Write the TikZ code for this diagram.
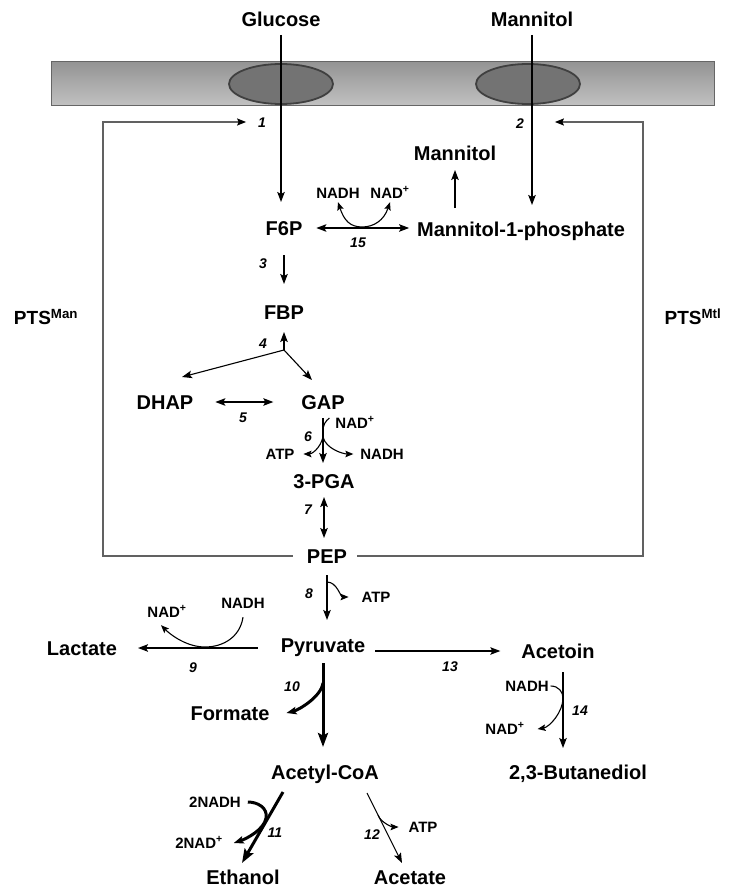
\documentclass[tikz,border=0pt]{standalone}
\usepackage{fontspec}
\setmainfont{Liberation Sans}
\usetikzlibrary{arrows.meta,calc,shapes.geometric}
\begin{document}
\begin{tikzpicture}[x=1pt,y=-1pt,
  lbl/.style={font=\bfseries\fontsize{20}{22}\selectfont, inner sep=0pt, outer sep=0pt, text height=14pt, text depth=0pt},
  pts/.style={font=\bfseries\fontsize{19}{21}\selectfont, inner sep=0pt, outer sep=0pt, text height=13.4pt, text depth=0pt},
  sm/.style={font=\bfseries\fontsize{15}{17}\selectfont, inner sep=0pt, outer sep=0pt, text height=10.4pt, text depth=0pt},
  num/.style={font=\bfseries\itshape\fontsize{14}{16}\selectfont, inner sep=0pt, outer sep=0pt, text height=9.8pt, text depth=0pt},
  tip/.style={-{Stealth[length=10pt,width=7.5pt,inset=2pt]}},
  dtip/.style={{Stealth[length=10pt,width=7.5pt,inset=2pt]}-{Stealth[length=10pt,width=7.5pt,inset=2pt]}},
  btip/.style={-{Stealth[length=14pt,width=10pt,inset=2.5pt]}},
  stip/.style={-{Stealth[length=8pt,width=6.5pt,inset=1.5pt]}},
  ltip/.style={-{Stealth[length=9pt,width=7pt,inset=1.5pt,color=black]}},
  dstip/.style={{Stealth[length=8pt,width=6.5pt,inset=1.5pt]}-{Stealth[length=8pt,width=6.5pt,inset=1.5pt]}},
  main/.style={line width=1.4pt},
  fine/.style={line width=1.1pt},
  heavy/.style={line width=3pt},
  loopl/.style={line width=1.3pt, draw=black!62},
  transporter/.style={ellipse, draw=black!75, line width=1.8pt, fill=black!55, minimum width=104pt, minimum height=40pt, inner sep=0pt},
]
\useasboundingbox (0,0) rectangle (728,888);
\fill[white] (0,0) rectangle (728,888);

% membrane
\shade[top color=black!42, middle color=black!20, bottom color=black!24] (51,62) rectangle (714,106);
\draw[black!60, line width=1pt] (51,62) rectangle (714,106);
\node[transporter] (tr1) at (281,84) {};
\node[transporter] (tr2) at (528,84) {};

% labels
\node[lbl] (glc) at (281,20) {Glucose};
\node[lbl] (mtl) at (532,20) {Mannitol};
\node[num] (n1) at (262,123) {1};
\node[num] (n2) at (520,124) {2};
\node[lbl] (mnt) at (455,153) {Mannitol};
\node[sm] (nadh15) at (338,193) {NADH};
\node[sm] (nad15) at (390,193) {NAD\textsuperscript{+}};
\node[lbl] (f6p) at (284,228) {F6P};
\node[lbl] (m1p) at (521,229) {Mannitol-1-phosphate};
\node[num] (n15) at (358,243) {15};
\node[num] (n3) at (263,264) {3};
\node[lbl] (fbp) at (284,312) {FBP};
\node[pts] (ptsman) at (46,318) {PTS\textsuperscript{Man}};
\node[pts] (ptsmtl) at (693,318) {PTS\textsuperscript{Mtl}};
\node[num] (n4) at (263,344) {4};
\node[lbl] (dhap) at (165,402) {DHAP};
\node[lbl] (gap) at (323,402) {GAP};
\node[num] (n5) at (243,418) {5};
\node[sm] (nad6) at (355,423) {NAD\textsuperscript{+}};
\node[num] (n6) at (308,437) {6};
\node[sm] (atp6) at (280,454) {ATP};
\node[sm] (nadh6) at (382,454) {NADH};
\node[lbl] (pga) at (324,481) {3-PGA};
\node[num] (n7) at (308,510) {7};
\node[lbl] (pep) at (327,556) {PEP};
\node[num] (n8) at (309,594) {8};
\node[sm] (atp8) at (376,597) {ATP};
\node[sm] (nadh9) at (243,603) {NADH};
\node[sm] (nad9) at (167,612) {NAD\textsuperscript{+}};
\node[lbl] (pyr) at (323,645) {Pyruvate};
\node[lbl] (lac) at (82,648) {Lactate};
\node[lbl] (aco) at (558,651) {Acetoin};
\node[num] (n9) at (193,668) {9};
\node[num] (n13) at (450,667) {13};
\node[num] (n10) at (292,687) {10};
\node[sm] (nadh14) at (527,686) {NADH};
\node[num] (n14) at (580,711) {14};
\node[lbl] (frm) at (230,713) {Formate};
\node[sm] (nad14) at (505,729) {NAD\textsuperscript{+}};
\node[lbl] (acoa) at (325,772) {Acetyl-CoA};
\node[lbl] (bdo) at (578,772) {2,3-Butanediol};
\node[sm] (nadh11) at (215,802) {2NADH};
\node[sm] (atp12) at (423,827) {ATP};
\node[num] (n11) at (275,833) {11};
\node[num] (n12) at (372,835) {12};
\node[sm] (nad11) at (199,843) {2NAD\textsuperscript{+}};
\node[lbl] (eth) at (243,877) {Ethanol};
\node[lbl] (acet) at (410,877) {Acetate};

% PTS loops
\coordinate (c1) at (103,556);
\coordinate (c2) at (103,122);
\coordinate (c3) at (643,556);
\coordinate (c4) at (643,122);
\draw[loopl, ltip] ([xshift=-14pt]pep.west) -- (c1) -- (c2) -- ([xshift=-12pt]n1.west |- c2);
\draw[loopl, ltip] ([xshift=10pt]pep.east) -- (c3) -- (c4) -- ([xshift=31pt]n2.east |- c4);

% uptake
\draw[main, tip, shorten <=8pt, shorten >=19pt] (glc.south) -- (glc.south |- f6p.north);
\draw[main, tip, shorten <=8pt, shorten >=17pt] (mtl.south) -- (mtl.south |- m1p.north);
\draw[fine, tip, shorten <=14pt, shorten >=10pt] (m1p.north -| mnt.south) -- (mnt.south);

% 15
\draw[main, dtip, shorten <=14pt, shorten >=8pt] (f6p.east) -- (f6p.east -| m1p.west);
\draw[fine, dstip] ([yshift=-4pt]nadh15.south) .. controls +(6,18) and +(-12,0) .. (362,227) .. controls +(12,0) and +(-6,18) .. ([yshift=-4pt]nad15.south);

% 3, 4, 5
\draw[fine, tip, shorten <=20pt, shorten >=21pt] (f6p.south) -- (f6p.south |- fbp.north);
\coordinate (b4) at (284,350);
\draw[fine, tip, shorten >=13pt] (b4) -- (fbp.south);
\draw[fine, tip] (b4) -- ($(dhap.north)+(17,-18)$);
\draw[fine, tip] (b4) -- ($(gap.north)+(-11,-15)$);
\draw[main, dtip, shorten <=22pt, shorten >=28pt] (dhap.east) -- (gap.west);

% 6
\draw[main, tip, shorten <=9pt, shorten >=11pt] (gap.south) -- (gap.south |- pga.north);
\draw[fine] ([xshift=-6pt,yshift=5pt]nad6.west) .. controls +(-4,3) and +(0,-6) .. (323,431);
\coordinate (j6) at (323,437);
\draw[fine, stip] (j6) .. controls +(-3,12) and +(8,0) .. ([xshift=9pt]atp6.east);
\draw[fine, stip] (j6) .. controls +(3,12) and +(-10,0) .. ([xshift=-7pt]nadh6.west);

% 7, 8
\draw[main, dtip, shorten <=9pt, shorten >=11pt] (pga.south) -- (pga.south |- pep.north);
\draw[main, tip, shorten <=12pt, shorten >=18pt] (pep.south) -- (pep.south |- pyr.north);
\draw[fine, stip] (327,582) .. controls +(10,0) and +(-8,0) .. ([xshift=-13pt]atp8.west);

% 9
\draw[main, tip, shorten <=23pt, shorten >=21pt] (pyr.west |- lac.east) -- (lac.east);
\draw[fine, stip] ([yshift=-9pt]nadh9.south) .. controls +(-3,20) and +(18,0) .. (205,647) .. controls +(-18,0) and +(10,10) .. ([xshift=-6pt,yshift=-8pt]nad9.south);

% 10
\draw[heavy, btip, shorten <=11pt, shorten >=18pt] (pyr.south) -- (pyr.south |- acoa.north);
\draw[heavy, tip] (323,683) .. controls +(-2,14) and +(12,-3) .. ([xshift=17pt]frm.east);

% 13, 14
\draw[main, tip, shorten <=10pt, shorten >=21pt] (pyr.east |- aco.west) -- (aco.west);
\draw[fine, tip, shorten <=14pt, shorten >=17pt] ([xshift=5pt]aco.south) -- ([xshift=5pt]aco.south |- bdo.north);
\draw[fine, stip] ([xshift=2pt]nadh14.east) .. controls +(8,0) and +(0,-6) .. (563,698) .. controls +(0,14) and +(12,-2) .. ([xshift=13pt]nad14.east);

% 11
\draw[heavy, btip] ($(acoa.south)+(-42,13)$) -- ($(eth.north)+(-1,-7)$);
\draw[heavy, tip] ([xshift=7pt]nadh11.east) .. controls +(10,0) and +(2,-10) .. (266,818) .. controls +(-2,12) and +(12,-4) .. ([xshift=11pt]nad11.east);

% 12
\draw[fine, tip] ($(acoa.south)+(42,14)$) -- ($(acet.north)+(-8,-7)$);
\draw[fine, stip] (378,815) .. controls +(3,8) and +(-6,0) .. ([xshift=-10pt]atp12.west);
\end{tikzpicture}
\end{document}
